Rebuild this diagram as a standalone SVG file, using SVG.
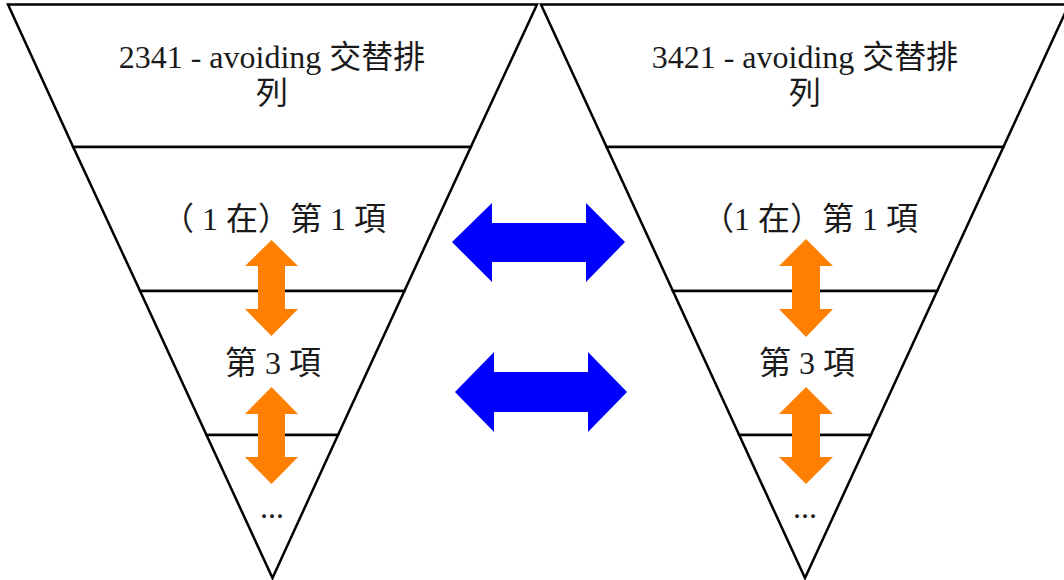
<svg xmlns="http://www.w3.org/2000/svg" width="1064" height="580" viewBox="0 0 1064 580">
<style>
.seg{fill:#fff;stroke:#000;stroke-width:2.5;stroke-linejoin:miter}
.t{font-family:"Liberation Serif","Noto Sans CJK TC",serif;font-size:32px;fill:#1a1a1a;text-anchor:middle}
.or{fill:#FF8000}
.bl{fill:#0000FF}
</style>
<rect width="1064" height="580" fill="#fff"/>
<g id="left-top"><polygon class="seg" points="8,4.5 537,4.5 470.8,147 73.2,147"/>
<text class="t" x="272" y="68">2341 - avoiding 交替排</text><text class="t" x="272" y="104">列</text></g>
<g id="left-item1"><polygon class="seg" points="73.2,147 470.8,147 404.4,291 140.1,291"/>
<text class="t" x="274" y="230">（ 1 在）第 1 項</text></g>
<g id="left-item3"><polygon class="seg" points="140.1,291 404.4,291 338,435 206.5,435"/>
<text class="t" x="273" y="374">第 3 項</text></g>
<g id="left-more"><polygon class="seg" points="206.5,435 338,435 272.5,578"/>
<text class="t" x="272" y="518">...</text></g>
<g id="right-top"><polygon class="seg" points="541,4.5 1069,4.5 1003.4,147 606.6,147"/>
<text class="t" x="805" y="68">3421 - avoiding 交替排</text><text class="t" x="805" y="104">列</text></g>
<g id="right-item1"><polygon class="seg" points="606.6,147 1003.4,147 937.1,291 672.9,291"/>
<text class="t" x="810" y="230">（1 在）第 1 項</text></g>
<g id="right-item3"><polygon class="seg" points="672.9,291 937.1,291 870.8,435 739.2,435"/>
<text class="t" x="807" y="374">第 3 項</text></g>
<g id="right-more"><polygon class="seg" points="739.2,435 870.8,435 805,578"/>
<text class="t" x="805" y="518">...</text></g>
<g id="connectors">
<polygon class="or" points="271.5,240 298,266 285,266 285,309 298,309 271.5,336 245,309 258,309 258,266 245,266"/>
<polygon class="or" points="271.5,387 298,414 285,414 285,457 298,457 271.5,484 245,457 258,457 258,414 245,414"/>
<polygon class="or" points="806,239 833,266 820,266 820,309 833,309 806,337 779,309 792,309 792,266 779,266"/>
<polygon class="or" points="806,387 833,414 820,414 820,457 833,457 806,484 779,457 792,457 792,414 779,414"/>
<polygon class="bl" points="452,242 492,203 492,223 586,223 586,203 625,242 586,282 586,262 492,262 492,282"/>
<polygon class="bl" points="455,392 494,352 494,372 588,372 588,352 627,392 588,432 588,412 494,412 494,432"/>
</g>
</svg>
